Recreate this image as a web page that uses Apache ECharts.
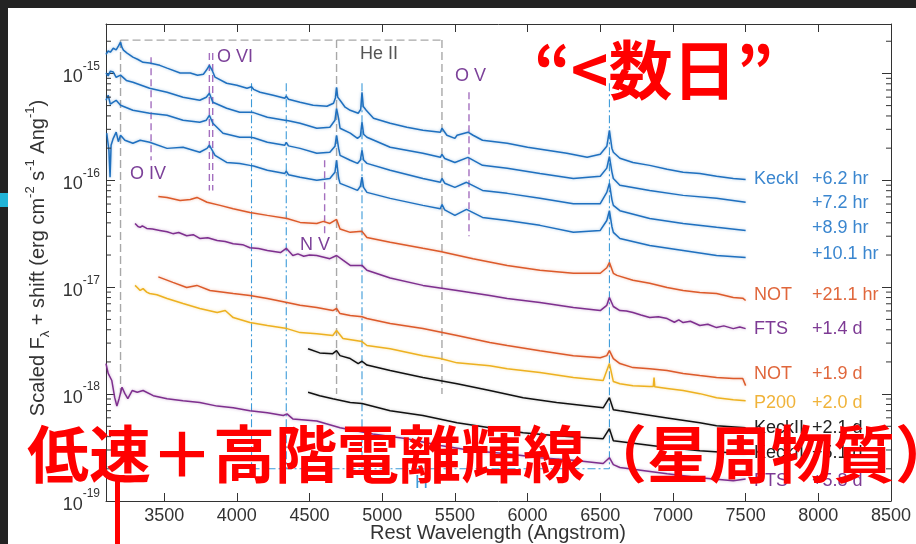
<!DOCTYPE html>
<html>
<head>
<meta charset="utf-8">
<script src="https://cdn.jsdelivr.net/npm/echarts@6/dist/echarts.min.js"></script>
<style>
html,body{margin:0;padding:0;background:#ffffff;}
#chart{width:916px;height:544px;}
</style>
</head>
<body>
<div id="chart"></div>
<script>
// Axis ranges and tick values
const X_MIN = 3100, X_MAX = 8500;
const Y_MIN = 1e-19, Y_MAX = 2.9e-15;
const xTicks = [3500, 4000, 4500, 5000, 5500, 6000, 6500, 7000, 7500, 8000, 8500];
const yDecades = [1e-19, 1e-18, 1e-17, 1e-16, 1e-15];

// Spectra: [rest wavelength (Angstrom), scaled F_lambda + shift]
const keckI_6p2hr = [[3100,1.51e-15],[3115,1.62e-15],[3130,1.58e-15],[3150,1.72e-15],[3170,1.66e-15],[3185,1.80e-15],[3200,1.96e-15],[3210,1.75e-15],[3220,1.65e-15],[3245,1.55e-15],[3285,1.42e-15],[3320,1.35e-15],[3355,1.27e-15],[3400,1.25e-15],[3470,1.19e-15],[3520,1.12e-15],[3610,1.01e-15],[3680,1.01e-15],[3730,9.63e-16],[3770,9.84e-16],[3790,1.07e-15],[3811,1.19e-15],[3830,1.07e-15],[3850,9.22e-16],[3930,8.10e-16],[4000,7.76e-16],[4070,7.27e-16],[4101,7.50e-16],[4115,7.10e-16],[4160,6.67e-16],[4250,6.25e-16],[4330,5.86e-16],[4340,6.12e-16],[4355,5.73e-16],[4435,5.38e-16],[4525,5.04e-16],[4620,4.93e-16],[4665,5.26e-16],[4678,5.90e-16],[4686,7.43e-16],[4694,6.00e-16],[4710,5.61e-16],[4745,4.83e-16],[4780,4.52e-16],[4835,4.24e-16],[4852,4.60e-16],[4861,6.67e-16],[4870,4.90e-16],[4890,4.52e-16],[4940,3.81e-16],[5055,3.42e-16],[5170,3.14e-16],[5280,2.94e-16],[5400,2.82e-16],[5411,3.07e-16],[5445,2.64e-16],[5500,2.47e-16],[5515,2.64e-16],[5590,2.82e-16],[5625,2.64e-16],[5690,2.37e-16],[5860,2.22e-16],[6000,2.04e-16],[6135,1.91e-16],[6270,1.79e-16],[6410,1.64e-16],[6500,1.75e-16],[6545,2.08e-16],[6563,2.94e-16],[6580,2.00e-16],[6590,1.83e-16],[6635,1.61e-16],[6725,1.47e-16],[6840,1.38e-16],[6960,1.27e-16],[7070,1.19e-16],[7185,1.16e-16],[7300,1.09e-16],[7415,1.04e-16],[7500,1.02e-16]];
const keckI_7p2hr = [[3100,1.01e-15],[3115,9.50e-16],[3130,1.05e-15],[3150,1.03e-15],[3170,9.20e-16],[3200,9.63e-16],[3240,8.60e-16],[3285,8.27e-16],[3400,7.27e-16],[3520,6.67e-16],[3630,5.99e-16],[3745,5.61e-16],[3790,5.99e-16],[3811,6.53e-16],[3835,5.38e-16],[3930,4.72e-16],[4020,4.33e-16],[4090,4.33e-16],[4101,4.52e-16],[4115,4.30e-16],[4210,3.89e-16],[4330,3.65e-16],[4340,3.81e-16],[4355,3.60e-16],[4435,3.42e-16],[4550,3.07e-16],[4640,3.14e-16],[4675,3.65e-16],[4686,4.72e-16],[4700,3.80e-16],[4710,3.07e-16],[4780,2.76e-16],[4830,2.47e-16],[4850,2.60e-16],[4861,3.49e-16],[4872,2.70e-16],[4895,2.53e-16],[5055,2.04e-16],[5280,1.79e-16],[5400,1.64e-16],[5411,1.75e-16],[5430,1.60e-16],[5500,1.47e-16],[5590,1.64e-16],[5690,1.38e-16],[5860,1.30e-16],[6085,1.16e-16],[6315,1.04e-16],[6500,1.09e-16],[6545,1.30e-16],[6563,1.67e-16],[6580,1.20e-16],[6590,1.04e-16],[6635,8.99e-17],[6840,8.05e-17],[7070,7.23e-17],[7300,6.78e-17],[7500,6.24e-17]];
const keckI_8p9hr = [[3100,5.61e-16],[3115,6.25e-16],[3130,5.15e-16],[3150,5.38e-16],[3170,5.60e-16],[3200,5.04e-16],[3285,4.52e-16],[3400,4.24e-16],[3520,4.06e-16],[3630,3.65e-16],[3745,3.49e-16],[3790,3.65e-16],[3811,4.06e-16],[3835,3.42e-16],[3905,2.76e-16],[4020,2.53e-16],[4090,2.53e-16],[4101,2.64e-16],[4115,2.50e-16],[4210,2.27e-16],[4330,2.13e-16],[4340,2.27e-16],[4355,2.10e-16],[4435,1.99e-16],[4550,1.79e-16],[4640,1.83e-16],[4675,2.08e-16],[4686,2.64e-16],[4700,2.00e-16],[4710,1.71e-16],[4780,1.54e-16],[4830,1.44e-16],[4850,1.55e-16],[4861,1.91e-16],[4872,1.55e-16],[4895,1.44e-16],[5055,1.24e-16],[5280,1.04e-16],[5400,9.58e-17],[5411,1.04e-16],[5430,9.40e-17],[5500,8.59e-17],[5580,9.58e-17],[5690,8.05e-17],[5860,7.55e-17],[6085,6.78e-17],[6315,6.05e-17],[6500,6.05e-17],[6545,7.71e-17],[6563,9.37e-17],[6580,6.60e-17],[6590,5.83e-17],[6635,5.20e-17],[6840,4.40e-17],[7070,3.95e-17],[7300,3.63e-17],[7500,3.40e-17]];
const keckI_10p1hr = [[3105,2.76e-16],[3120,1.91e-16],[3128,1.07e-16],[3135,2.13e-16],[3150,2.47e-16],[3170,2.82e-16],[3185,2.30e-16],[3200,2.64e-16],[3230,2.37e-16],[3285,2.22e-16],[3335,2.37e-16],[3400,2.27e-16],[3520,1.99e-16],[3630,2.04e-16],[3745,1.83e-16],[3795,1.99e-16],[3811,2.13e-16],[3850,1.71e-16],[3930,1.47e-16],[4020,1.44e-16],[4090,1.38e-16],[4101,1.44e-16],[4115,1.36e-16],[4210,1.24e-16],[4330,1.16e-16],[4340,1.22e-16],[4355,1.13e-16],[4435,1.07e-16],[4550,1.00e-16],[4640,1.04e-16],[4675,1.19e-16],[4686,1.54e-16],[4700,1.05e-16],[4710,9.37e-17],[4780,8.59e-17],[4830,8.05e-17],[4850,8.80e-17],[4861,1.07e-16],[4872,8.60e-17],[4895,7.71e-17],[5055,6.78e-17],[5280,5.83e-17],[5400,5.43e-17],[5411,5.95e-17],[5430,5.30e-17],[5500,4.70e-17],[5580,5.35e-17],[5690,4.50e-17],[5860,4.21e-17],[6085,3.79e-17],[6315,3.26e-17],[6500,3.40e-17],[6545,4.21e-17],[6563,5.20e-17],[6580,3.70e-17],[6590,3.26e-17],[6635,2.86e-17],[6840,2.46e-17],[7070,2.21e-17],[7300,1.98e-17],[7500,1.90e-17]];
const not_21p1hr = [[3460,7.07e-17],[3520,6.92e-17],[3610,6.47e-17],[3680,6.62e-17],[3726,6.92e-17],[3795,6.24e-17],[3885,5.83e-17],[3975,5.43e-17],[4090,5.01e-17],[4101,5.10e-17],[4210,4.70e-17],[4345,4.40e-17],[4435,4.04e-17],[4550,3.95e-17],[4595,4.13e-17],[4640,3.95e-17],[4686,4.31e-17],[4710,3.50e-17],[4780,3.26e-17],[4861,3.33e-17],[4895,2.92e-17],[5055,2.63e-17],[5280,2.31e-17],[5400,2.16e-17],[5625,1.85e-17],[5860,1.60e-17],[6085,1.44e-17],[6315,1.35e-17],[6500,1.35e-17],[6545,1.52e-17],[6563,1.70e-17],[6590,1.35e-17],[6615,1.29e-17],[6725,1.16e-17],[6840,1.09e-17],[6960,9.94e-18],[7070,9.32e-18],[7185,8.93e-18],[7300,8.73e-18],[7415,8.01e-18],[7480,7.90e-18],[7500,7.51e-18]];
const fts_1p4d = [[3300,3.95e-17],[3320,3.70e-17],[3335,3.63e-17],[3350,3.75e-17],[3380,3.55e-17],[3420,3.50e-17],[3470,3.40e-17],[3520,3.30e-17],[3560,3.17e-17],[3600,3.25e-17],[3655,3.03e-17],[3700,3.10e-17],[3745,2.86e-17],[3800,2.90e-17],[3865,2.73e-17],[3920,2.68e-17],[3975,2.55e-17],[4040,2.50e-17],[4090,2.34e-17],[4150,2.30e-17],[4210,2.21e-17],[4300,2.11e-17],[4340,2.31e-17],[4385,1.98e-17],[4420,2.05e-17],[4460,1.95e-17],[4500,2.00e-17],[4550,1.98e-17],[4640,1.85e-17],[4686,1.98e-17],[4730,1.79e-17],[4780,1.60e-17],[4861,1.60e-17],[4895,1.44e-17],[5055,1.22e-17],[5280,1.04e-17],[5515,9.32e-18],[5740,8.36e-18],[5860,7.84e-18],[6085,7.19e-18],[6315,6.46e-18],[6500,6.05e-18],[6545,6.77e-18],[6563,8.01e-18],[6590,6.60e-18],[6635,6.05e-18],[6680,6.00e-18],[6725,5.80e-18],[6780,5.50e-18],[6840,5.20e-18],[6900,5.30e-18],[6960,5.09e-18],[7010,4.70e-18],[7040,4.95e-18],[7070,4.67e-18],[7120,4.80e-18],[7185,4.38e-18],[7240,4.50e-18],[7300,4.19e-18],[7350,4.35e-18],[7415,4.10e-18],[7460,4.25e-18],[7500,4.10e-18]];
const not_1p9d = [[3460,1.25e-17],[3560,1.11e-17],[3655,9.94e-18],[3725,1.04e-17],[3815,9.32e-18],[3975,8.73e-18],[4090,8.36e-18],[4101,8.50e-18],[4210,7.84e-18],[4345,7.19e-18],[4435,6.77e-18],[4550,6.46e-18],[4660,6.05e-18],[4686,6.32e-18],[4710,5.67e-18],[4780,5.43e-18],[4861,5.30e-18],[4895,5.10e-18],[5055,4.57e-18],[5280,4.10e-18],[5515,3.53e-18],[5740,3.04e-18],[5860,2.85e-18],[6085,2.55e-18],[6315,2.29e-18],[6500,2.19e-18],[6545,2.29e-18],[6563,2.55e-18],[6590,2.15e-18],[6635,1.93e-18],[6725,1.77e-18],[6840,1.73e-18],[6960,1.66e-18],[7070,1.56e-18],[7185,1.49e-18],[7300,1.43e-18],[7415,1.40e-18],[7480,1.40e-18],[7500,1.20e-18]];
const p200_2p0d = [[3300,1.04e-17],[3315,9.94e-18],[3335,9.32e-18],[3355,9.70e-18],[3380,9.00e-18],[3400,8.73e-18],[3450,8.50e-18],[3520,7.84e-18],[3630,7.04e-18],[3745,6.32e-18],[3865,5.80e-18],[3920,6.05e-18],[3975,5.20e-18],[4090,4.67e-18],[4101,4.75e-18],[4210,4.38e-18],[4345,4.10e-18],[4435,3.76e-18],[4550,3.67e-18],[4660,3.53e-18],[4686,3.94e-18],[4730,3.31e-18],[4861,3.10e-18],[4895,2.85e-18],[5055,2.66e-18],[5280,2.29e-18],[5400,2.15e-18],[5515,1.96e-18],[5740,1.84e-18],[5860,1.73e-18],[6085,1.59e-18],[6315,1.43e-18],[6520,1.34e-18],[6563,1.93e-18],[6590,1.31e-18],[6635,1.25e-18],[6725,1.20e-18],[6840,1.18e-18],[6865,1.18e-18],[6870,1.43e-18],[6875,1.17e-18],[6960,1.13e-18],[7070,1.08e-18],[7185,1.01e-18],[7300,9.26e-19],[7415,8.87e-19],[7500,8.68e-19]];
const keckII_2p1d = [[4490,2.66e-18],[4570,2.43e-18],[4660,2.39e-18],[4686,2.55e-18],[4710,2.29e-18],[4780,2.15e-18],[4835,1.93e-18],[4861,2.03e-18],[4895,1.87e-18],[5055,1.66e-18],[5280,1.43e-18],[5515,1.25e-18],[5740,1.08e-18],[5970,9.26e-19],[6200,8.36e-19],[6520,7.45e-19],[6563,9.26e-19],[6590,7.14e-19],[6635,6.98e-19],[6725,6.69e-19],[6960,5.99e-19],[7185,5.40e-19],[7300,5.07e-19],[7500,4.85e-19]];
const keckII_5p1d = [[4490,1.04e-18],[4570,9.67e-19],[4660,9.06e-19],[4780,8.36e-19],[4861,8.18e-19],[5055,6.98e-19],[5280,6.31e-19],[5515,5.40e-19],[5740,4.85e-19],[5970,4.36e-19],[6200,4.08e-19],[6520,3.83e-19],[6563,4.75e-19],[6590,3.66e-19],[6960,3.16e-19],[7185,2.95e-19],[7500,2.77e-19]];
const fts_5p8d = [[3100,1.93e-18],[3115,1.56e-18],[3140,1.34e-18],[3160,9.26e-19],[3175,7.72e-19],[3190,9.06e-19],[3210,1.16e-18],[3230,1.01e-18],[3250,9.06e-19],[3280,1.08e-18],[3315,1.04e-18],[3355,1.08e-18],[3425,9.67e-19],[3520,9.06e-19],[3630,8.68e-19],[3745,8.36e-19],[3865,7.72e-19],[3975,7.45e-19],[4090,6.98e-19],[4210,6.69e-19],[4320,6.31e-19],[4345,6.53e-19],[4385,5.86e-19],[4550,5.61e-19],[4710,4.85e-19],[4935,4.24e-19],[5170,3.83e-19],[5400,3.30e-19],[5625,2.95e-19],[5860,2.77e-19],[6085,2.54e-19],[6315,2.40e-19],[6520,2.24e-19],[6563,2.54e-19],[6590,2.19e-19],[6635,2.06e-19],[6960,1.80e-19],[7185,1.65e-19],[7415,1.55e-19],[7500,1.61e-19]];

// Line identifications: wavelength and vertical extent of each marker
const balmerLines = [4101, 4340, 4861, 6563];
const balmerSpan = [8.1e-16, 2.0e-19];
const heliumLines = [3200, 4686, 5411];
const heliumSpan = [2.05e-15, 1.0e-18];
const ionLines = [
  { wl: 3410, span: [1.42e-15, 1.54e-16] },
  { wl: 3811, span: [1.55e-15, 8.05e-17] },
  { wl: 3834, span: [1.55e-15, 8.05e-17] },
  { wl: 4604, span: [1.54e-16, 3.17e-17] },
  { wl: 5597, span: [6.67e-16, 2.99e-17] }
];

// Instrument / epoch labels
const instruments = ['KeckI', '', '', '', 'NOT', 'FTS', 'NOT', 'P200', 'KeckII', 'KeckII', 'FTS'];
const epochs = ['+6.2 hr', '+7.2 hr', '+8.9 hr', '+10.1 hr', '+21.1 hr', '+1.4 d', '+1.9 d', '+2.0 d', '+2.1 d', '+5.1 d', '+5.8 d'];

const BLUE = '#1f70bf', ORANGE = '#dc5a2a', PURPLE = '#7e2f8e', YELLOW = '#edb120', BLACK = '#111111';
const spectra = [
  { data: keckI_6p2hr, color: BLUE, label: '#3a86cf', ly: 179 },
  { data: keckI_7p2hr, color: BLUE, label: '#3a86cf', ly: 203 },
  { data: keckI_8p9hr, color: BLUE, label: '#3a86cf', ly: 228 },
  { data: keckI_10p1hr, color: BLUE, label: '#3a86cf', ly: 254 },
  { data: not_21p1hr, color: ORANGE, label: '#e0673c', ly: 295 },
  { data: fts_1p4d, color: PURPLE, label: '#7d3a94', ly: 329 },
  { data: not_1p9d, color: ORANGE, label: '#e0673c', ly: 374 },
  { data: p200_2p0d, color: YELLOW, label: '#f0b33a', ly: 403 },
  { data: keckII_2p1d, color: BLACK, label: '#222222', ly: 428 },
  { data: keckII_5p1d, color: BLACK, label: '#222222', ly: 453 },
  { data: fts_5p8d, color: PURPLE, label: '#7d3a94', ly: 481 }
];

// minor ticks of the log axis (2..9 in each decade)
const minorTicks = [];
for (let e = -19; e <= -15; e++) {
  for (let m = 2; m <= 9; m++) {
    const v = m * Math.pow(10, e);
    if (v < Y_MAX) minorTicks.push([X_MIN, v]);
  }
}

const chart = echarts.init(document.getElementById('chart'), null, { renderer: 'canvas' });

function refLine(points, color, type, width) {
  return {
    type: 'line', data: points, showSymbol: false, silent: true, animation: false, z: 1,
    lineStyle: { color: color, type: type, width: width }
  };
}

const series = [];
heliumLines.forEach(wl => series.push(refLine([[wl, heliumSpan[0]], [wl, heliumSpan[1]]], '#a8a8a8', [8, 4], 1.4)));
series.push(refLine([[heliumLines[0], heliumSpan[0]], [heliumLines[2], heliumSpan[0]]], '#a8a8a8', [8, 4], 1.4));
balmerLines.forEach(wl => series.push(refLine([[wl, balmerSpan[0]], [wl, balmerSpan[1]]], '#3d9bd9', [8, 3, 2, 3], 1.1)));
series.push(refLine([[balmerLines[0], balmerSpan[1]], [balmerLines[3], balmerSpan[1]]], '#3d9bd9', [8, 3, 2, 3], 1.1));
ionLines.forEach(l => series.push(refLine([[l.wl, l.span[0]], [l.wl, l.span[1]]], '#a46fbf', [7, 4], 1.4)));

spectra.forEach(s => series.push({
  type: 'line', data: s.data, showSymbol: false, silent: true, animation: false, z: 3,
  lineStyle: { color: s.color, width: 1.5, shadowColor: s.color === BLACK ? 'rgba(0,0,0,0.25)' : s.color + '66', shadowBlur: 3 }
}));

series.push({
  type: 'custom', coordinateSystem: 'cartesian2d', data: minorTicks, silent: true, animation: false, z: 5,
  encode: { x: 0, y: 1 },
  renderItem: function (params, api) {
    const v = api.value(1);
    const l = api.coord([X_MIN, v]);
    const r = api.coord([X_MAX, v]);
    return {
      type: 'group', children: [
        { type: 'line', shape: { x1: l[0], y1: l[1], x2: l[0] + 5, y2: l[1] }, style: { stroke: '#333', lineWidth: 1 } },
        { type: 'line', shape: { x1: r[0] - 5, y1: r[1], x2: r[0], y2: r[1] }, style: { stroke: '#333', lineWidth: 1 } }
      ]
    };
  }
});

const FONT = '"Liberation Sans", Arial, Helvetica, sans-serif';
const CJK = '"Noto Sans CJK JP", "Noto Sans CJK SC", sans-serif';

function yLabel(v) {
  const e = Math.round(Math.log10(v));
  if (Math.abs(Math.log10(v) - e) > 1e-6) return '';
  return '{b|10}{s|' + e + '}';
}

const axisCommon = {
  axisLine: { show: true, lineStyle: { color: '#333', width: 1 } },
  splitLine: { show: false }
};

const graphic = [];
// slide frame
graphic.push({ type: 'rect', shape: { x: 0, y: 0, width: 916, height: 8 }, style: { fill: '#232323' }, z: 100 });
graphic.push({ type: 'rect', shape: { x: 0, y: 0, width: 8, height: 544 }, style: { fill: '#232323' }, z: 100 });
graphic.push({ type: 'rect', shape: { x: 0, y: 193, width: 8, height: 14 }, style: { fill: '#22b4d8' }, z: 101 });

// axis names
graphic.push({
  type: 'text', x: 498, y: 533, z: 20,
  style: { text: 'Rest Wavelength (Angstrom)', fill: '#333', fontSize: 20, fontFamily: FONT, align: 'center', verticalAlign: 'middle' }
});
graphic.push({
  type: 'text', x: 38, y: 258, rotation: Math.PI / 2, z: 20,
  style: {
    text: '{n|Scaled F}{sub|λ}{n| + shift (erg cm}{sup|-2}{n| s}{sup|-1}{n| Ang}{sup|-1}{n|)}',
    align: 'center', verticalAlign: 'middle', fill: '#333',
    rich: {
      n: { fontSize: 20, fontFamily: FONT, fill: '#333', lineHeight: 28, verticalAlign: 'middle' },
      sub: { fontSize: 13, fontFamily: FONT, fill: '#333', lineHeight: 13, verticalAlign: 'bottom' },
      sup: { fontSize: 13, fontFamily: FONT, fill: '#333', lineHeight: 13, verticalAlign: 'top' }
    }
  }
});

// ion annotations
const notes = [
  { t: 'O VI', x: 217, y: 57, c: '#7c4199' },
  { t: 'He II', x: 360, y: 54, c: '#555555' },
  { t: 'O V', x: 455, y: 76, c: '#7c4199' },
  { t: 'O IV', x: 130, y: 174, c: '#7c4199' },
  { t: 'N V', x: 300, y: 245, c: '#7c4199' },
  { t: 'H', x: 415, y: 483, c: '#3d9bd9' }
];
notes.forEach(n => graphic.push({
  type: 'text', x: n.x, y: n.y, z: 20,
  style: { text: n.t, fill: n.c, fontSize: 18, fontFamily: FONT, align: 'left', verticalAlign: 'middle' }
}));

// instrument / epoch labels at the red end of each spectrum
spectra.forEach((s, i) => {
  if (instruments[i]) graphic.push({
    type: 'text', x: 754, y: s.ly, z: 20,
    style: { text: instruments[i], fill: s.label, fontSize: 18, fontFamily: FONT, align: 'left', verticalAlign: 'middle' }
  });
  graphic.push({
    type: 'text', x: 812, y: s.ly, z: 20,
    style: { text: epochs[i], fill: s.label, fontSize: 18, fontFamily: FONT, align: 'left', verticalAlign: 'middle' }
  });
});

// red callouts
graphic.push({
  type: 'text', x: 534, y: 70, z: 200,
  style: { text: '“<数日”', fill: '#ff0000', fontSize: 64, fontWeight: 'bold', fontFamily: CJK, align: 'left', verticalAlign: 'middle' }
});
graphic.push({
  type: 'text', x: 27, y: 454, z: 200,
  style: { text: '低速＋高階電離輝線（星周物質）', fill: '#ff0000', fontSize: 62, fontWeight: 'bold', fontFamily: CJK, align: 'left', verticalAlign: 'middle' }
});
graphic.push({ type: 'rect', shape: { x: 115, y: 480, width: 5, height: 64 }, style: { fill: '#ff0000' }, z: 200 });

chart.setOption({
  animation: false,
  backgroundColor: '#ffffff',
  grid: { left: 106, top: 24, width: 785, height: 477, containLabel: false },
  xAxis: [
    Object.assign({}, axisCommon, {
      type: 'value', min: X_MIN, max: X_MAX, position: 'bottom',
      axisTick: { show: true, inside: true, length: 8, customValues: xTicks, lineStyle: { color: '#333' } },
      axisLabel: { show: true, customValues: xTicks, formatter: v => String(v), fontSize: 18, fontFamily: FONT, color: '#333', margin: 6 }
    }),
    Object.assign({}, axisCommon, {
      type: 'value', min: X_MIN, max: X_MAX, position: 'top',
      axisTick: { show: true, inside: true, length: 8, customValues: xTicks, lineStyle: { color: '#333' } },
      axisLabel: { show: false }
    })
  ],
  yAxis: [
    Object.assign({}, axisCommon, {
      type: 'log', min: Y_MIN, max: Y_MAX, logBase: 10, position: 'left',
      axisTick: { show: true, inside: true, length: 9, lineStyle: { color: '#333' } },
      axisLabel: {
        show: true, formatter: yLabel, margin: 6,
        rich: {
          b: { fontSize: 18, fontFamily: FONT, color: '#333', lineHeight: 26, verticalAlign: 'bottom' },
          s: { fontSize: 12, fontFamily: FONT, color: '#333', lineHeight: 14, verticalAlign: 'top' }
        }
      }
    }),
    Object.assign({}, axisCommon, {
      type: 'log', min: Y_MIN, max: Y_MAX, logBase: 10, position: 'right',
      axisTick: { show: true, inside: true, length: 9, lineStyle: { color: '#333' } },
      axisLabel: { show: false }
    })
  ],
  series: series,
  graphic: graphic
});
</script>
</body>
</html>
